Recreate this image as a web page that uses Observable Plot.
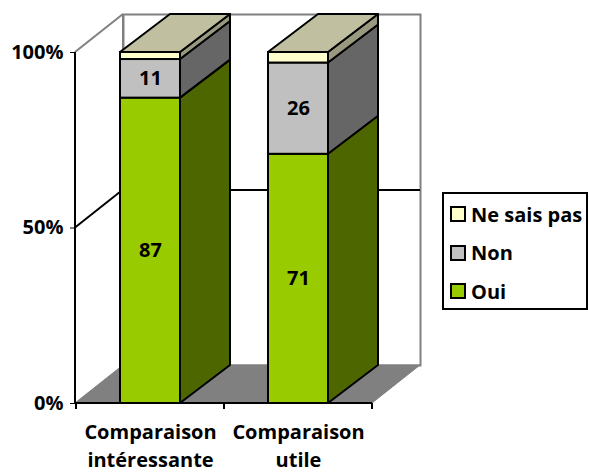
<!DOCTYPE html>
<html><head><meta charset="utf-8">
<script src="https://cdn.jsdelivr.net/npm/d3@7"></script>
<script src="https://cdn.jsdelivr.net/npm/@observablehq/plot@0.6"></script>
<style>
body{margin:0;background:#fff;}
#wrap{position:relative;width:589px;height:473px;font-family:"Open Sans",sans-serif;font-weight:bold;}
#legend{position:absolute;left:442px;top:192px;width:146px;height:118px;border:2px solid #000;box-sizing:border-box;background:#fff;}
.item{position:absolute;left:6px;height:24px;display:flex;align-items:center;font-size:20px;color:#000;white-space:nowrap;}
.sw{width:12px;height:12px;border:2px solid #000;margin-right:5px;}
</style></head><body>
<div id="wrap"><div id="legend"></div></div>
<script>
const categories = ["Comparaison intéressante", "Comparaison utile"];
const categoryLabels = ["Comparaison\nintéressante", "Comparaison\nutile"];
const series = ["Oui", "Non", "Ne sais pas"];
const oui = [87, 71];
const non = [11, 26];
const nsp = [2, 3];
const labelled = ["Oui", "Non"];
const yTicks = [0, 50, 100];
const yTickLabels = ["0%", "50%", "100%"];
const legendOrder = ["Ne sais pas", "Non", "Oui"];
const frontColors = {"Oui": "#99CC00", "Non": "#C0C0C0", "Ne sais pas": "#FFFFCC"};
const sideColors = {"Oui": "#4D6600", "Non": "#666666", "Ne sais pas": "#99997F"};
const topColors = {"Oui": "#73991A", "Non": "#909090", "Ne sais pas": "#C0C0A0"};

const values = {"Oui": oui, "Non": non, "Ne sais pas": nsp};
const rows = [];
categories.forEach((c, i) => {
  let acc = 0;
  series.forEach(s => {
    const v = values[s][i];
    rows.push({cat: c, series: s, value: v, y1: acc, y2: acc + v});
    acc += v;
  });
});

const WALL = {dx: 48, dy: 38};
const BAR = {dx: 50, dy: 38};

const chart = Plot.plot({
  width: 589, height: 473,
  marginLeft: 75, marginRight: 217, marginTop: 52, marginBottom: 70,
  x: {domain: categories, paddingInner: 0.596, paddingOuter: 0.298, axis: null},
  y: {domain: [0, 100], ticks: yTicks, tickFormat: d => yTickLabels[yTicks.indexOf(d)], tickSize: 5, tickPadding: 7, label: null},
  style: {fontFamily: "'Open Sans', sans-serif", fontSize: "20px", fontWeight: "bold", color: "#000", overflow: "visible", background: "transparent"},
  marks: [
    Plot.frame({dx: WALL.dx, dy: -WALL.dy, fill: "white", stroke: "#808080", strokeWidth: 2}),
    Plot.ruleY([50], {dx: WALL.dx, dy: -WALL.dy, stroke: "black", strokeWidth: 2}),
    Plot.barY(rows, {x: "cat", y1: "y1", y2: "y2", fill: d => frontColors[d.series], stroke: "black", strokeWidth: 2}),
    Plot.text(rows.filter(d => labelled.includes(d.series)), {x: "cat", y: d => (d.y1 + d.y2) / 2, text: d => String(d.value), fill: "black", fontSize: 20, fontWeight: "bold"}),
    Plot.text(categories, {x: d => d, text: (d, i) => categoryLabels[i], frameAnchor: "bottom", lineAnchor: "top", dy: 16, lineHeight: 1.4, fill: "black", fontSize: 20, fontWeight: "bold"})
  ]
});

document.getElementById("wrap").prepend(chart);

const svg = d3.select(chart.tagName.toLowerCase() === "svg" ? chart : chart.querySelector("svg"));
const sx = chart.scale("x"), sy = chart.scale("y");
const X = v => sx.apply(v);
const bw = sx.bandwidth;
const Y = v => sy.apply(v);
const [xa, xb] = sx.range;
const poly = pts => "M" + pts.map(p => p.join(",")).join("L") + "Z";

const barNode = svg.select("g[aria-label='bar']").node();
const g = svg.insert("g", () => barNode);

// side wall
g.append("path").attr("d", poly([[xa, Y(0)], [xa, Y(100)], [xa + WALL.dx, Y(100) - WALL.dy], [xa + WALL.dx, Y(0) - WALL.dy]]))
  .attr("fill", "white").attr("stroke", "none");
g.append("line").attr("x1", xa).attr("y1", Y(100)).attr("x2", xa + WALL.dx).attr("y2", Y(100) - WALL.dy).attr("stroke", "#808080").attr("stroke-width", 2);
g.append("line").attr("x1", xa).attr("y1", Y(50)).attr("x2", xa + WALL.dx).attr("y2", Y(50) - WALL.dy).attr("stroke", "black").attr("stroke-width", 2);
g.append("line").attr("x1", xa + WALL.dx).attr("y1", Y(100) - WALL.dy).attr("x2", xa + WALL.dx).attr("y2", Y(0) - WALL.dy).attr("stroke", "#808080").attr("stroke-width", 2);
// floor
g.append("path").attr("d", poly([[xa, Y(0)], [xb, Y(0)], [xb + WALL.dx, Y(0) - WALL.dy], [xa + WALL.dx, Y(0) - WALL.dy]]))
  .attr("fill", "#808080").attr("stroke", "#808080").attr("stroke-width", 1);

// bar sides and tops
const gb = svg.insert("g", () => barNode.nextSibling);
rows.forEach(d => {
  const xr = X(d.cat) + bw;
  gb.append("path").attr("d", poly([[xr, Y(d.y1)], [xr + BAR.dx, Y(d.y1) - BAR.dy], [xr + BAR.dx, Y(d.y2) - BAR.dy], [xr, Y(d.y2)]]))
    .attr("fill", sideColors[d.series]).attr("stroke", "black").attr("stroke-width", 2).attr("stroke-linejoin", "round");
});
categories.forEach(c => {
  const top = rows.filter(d => d.cat === c).slice(-1)[0];
  const xl = X(c), xr = xl + bw, yt = Y(top.y2);
  gb.append("path").attr("d", poly([[xl, yt], [xr, yt], [xr + BAR.dx, yt - BAR.dy], [xl + BAR.dx, yt - BAR.dy]]))
    .attr("fill", topColors[top.series]).attr("stroke", "black").attr("stroke-width", 2).attr("stroke-linejoin", "round");
});

// axis lines
const ga = svg.append("g");
ga.append("line").attr("x1", xa).attr("x2", xa).attr("y1", Y(100)).attr("y2", Y(0)).attr("stroke", "black").attr("stroke-width", 2);
ga.append("line").attr("x1", xa).attr("x2", xb).attr("y1", Y(0)).attr("y2", Y(0)).attr("stroke", "black").attr("stroke-width", 2);
const step = X(categories[1]) - X(categories[0]);
const bounds = [X(categories[0]) + bw / 2 - step / 2].concat(categories.map(c => X(c) + bw / 2 + step / 2));
bounds.forEach(b => ga.append("line").attr("x1", b).attr("x2", b).attr("y1", Y(0)).attr("y2", Y(0) + 6).attr("stroke", "black").attr("stroke-width", 2));

// legend
const lg = document.getElementById("legend");
legendOrder.forEach((s, i) => {
  const it = document.createElement("div");
  it.className = "item";
  it.style.top = (8 + i * 38.5) + "px";
  const sw = document.createElement("div");
  sw.className = "sw";
  sw.style.background = frontColors[s];
  it.appendChild(sw);
  it.appendChild(document.createTextNode(s));
  lg.appendChild(it);
});
</script>
</body></html>
